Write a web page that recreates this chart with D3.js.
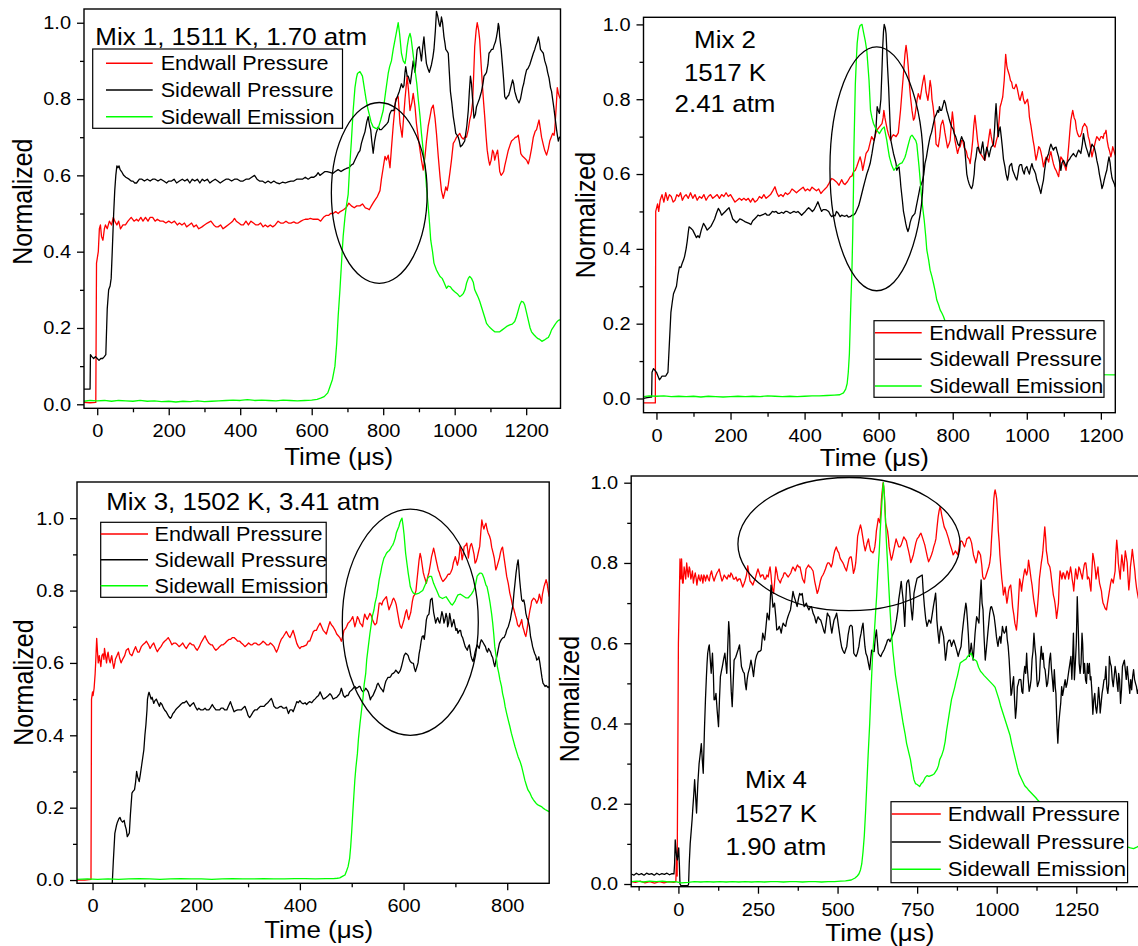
<!DOCTYPE html>
<html>
<head>
<meta charset="utf-8">
<script src="https://cdn.jsdelivr.net/npm/d3@7"></script>
<style>
  html, body { margin: 0; padding: 0; background: #fff; }
  svg { display: block; font-family: "Liberation Sans", Arial, Helvetica, sans-serif; }
</style>
</head>
<body>
<svg id="chart" width="1138" height="946"></svg>
<script>
// ---------------------------------------------------------------
// Shock-tube traces, normalized: [time in microseconds, value]
// ---------------------------------------------------------------
const seriesNames  = ["Endwall Pressure", "Sidewall Pressure", "Sidewall Emission"];
const seriesColors = ["#ff0000", "#000000", "#00ff00"];

const mixLabels = [
  ["Mix 1, 1511 K, 1.70 atm"],
  ["Mix 2", "1517 K", "2.41 atm"],
  ["Mix 3, 1502 K, 3.41 atm"],
  ["Mix 4", "1527 K", "1.90 atm"]
];

const yTicks      = [0, 0.2, 0.4, 0.6, 0.8, 1.0];
const yMinorTicks = [0.1, 0.3, 0.5, 0.7, 0.9];
const xTicks1 = [0, 200, 400, 600, 800, 1000, 1200];
const xMinor1 = [100, 300, 500, 700, 900, 1100];
const xTicks3 = [0, 200, 400, 600, 800];
const xMinor3 = [100, 300, 500, 700];
const xTicks4 = [0, 250, 500, 750, 1000, 1250];
const xMinor4 = [-125, 125, 375, 625, 875, 1125, 1375];

// Highlight ellipses: [centre time, centre value, half-width (us), half-height]
const mix1Ring = [789, 0.554, 134, 0.237];
const mix2Ring = [594.6, 0.614, 126.2, 0.326];
const mix3Ring = [613, 0.7125, 131.2, 0.3125];
const mix4Ring = [536, 0.847, 349, 0.166];

// ---------------- Mix 1 ----------------
const mix1Endwall = [[-37,0.005],[-20,0.004],[-4,0.005],[-2,0.37],[3,0.40],[6,0.46],[9,0.47],[12,0.44],[16,0.43],[20,0.46],[23,0.47],[28,0.46],[34,0.48],[40,0.47],[45,0.49],[49,0.48],[55,0.47],[60,0.48],[65,0.46],[72,0.47],[79,0.47],[86,0.48],[95,0.49],[103,0.48],[110,0.485],[115,0.48],[122,0.49],[128,0.48],[135,0.49],[142,0.48],[148,0.49],[155,0.49],[162,0.48],[168,0.485],[176,0.48],[184,0.48],[192,0.475],[200,0.48],[208,0.475],[216,0.48],[224,0.47],[230,0.475],[237,0.47],[244,0.475],[250,0.465],[257,0.47],[264,0.475],[270,0.465],[277,0.47],[284,0.46],[293,0.465],[300,0.47],[308,0.475],[318,0.48],[326,0.47],[332,0.465],[338,0.465],[345,0.47],[352,0.46],[359,0.465],[366,0.47],[373,0.475],[379,0.48],[384,0.487],[389,0.48],[396,0.475],[403,0.47],[409,0.47],[416,0.48],[423,0.47],[430,0.48],[437,0.475],[444,0.47],[450,0.47],[457,0.475],[464,0.465],[470,0.47],[477,0.465],[484,0.47],[491,0.465],[498,0.47],[506,0.48],[513,0.475],[521,0.475],[528,0.48],[535,0.475],[542,0.475],[550,0.478],[556,0.475],[562,0.475],[570,0.48],[576,0.483],[582,0.485],[590,0.485],[596,0.487],[603,0.485],[610,0.485],[618,0.485],[625,0.48],[633,0.49],[640,0.495],[647,0.495],[653,0.50],[660,0.50],[667,0.505],[674,0.50],[680,0.505],[689,0.51],[696,0.515],[704,0.527],[711,0.52],[719,0.515],[726,0.52],[735,0.52],[742,0.525],[750,0.515],[756,0.513],[761,0.51],[767,0.52],[772,0.528],[777,0.535],[784,0.545],[791,0.56],[795,0.59],[800,0.62],[805,0.65],[809,0.64],[814,0.653],[819,0.62],[823,0.67],[828,0.73],[832,0.77],[835,0.80],[842,0.806],[847,0.736],[853,0.70],[857,0.75],[861,0.80],[867,0.86],[871,0.82],[875,0.77],[880,0.79],[884,0.815],[889,0.78],[893,0.736],[898,0.70],[903,0.666],[907,0.64],[912,0.614],[917,0.65],[921,0.69],[926,0.73],[931,0.754],[935,0.775],[940,0.784],[945,0.75],[949,0.71],[954,0.65],[959,0.596],[963,0.56],[968,0.54],[972,0.555],[975,0.57],[979,0.56],[982,0.575],[987,0.61],[991,0.64],[996,0.684],[1000,0.69],[1005,0.70],[1010,0.705],[1014,0.71],[1019,0.70],[1024,0.695],[1028,0.70],[1033,0.70],[1038,0.72],[1042,0.745],[1046,0.76],[1050,0.79],[1053,0.86],[1056,0.937],[1060,0.98],[1063,1.0],[1067,0.98],[1070,0.955],[1074,0.89],[1078,0.83],[1081,0.79],[1084,0.754],[1088,0.70],[1091,0.666],[1095,0.64],[1098,0.627],[1102,0.64],[1106,0.666],[1109,0.66],[1112,0.64],[1116,0.655],[1120,0.666],[1123,0.64],[1126,0.61],[1130,0.60],[1134,0.605],[1137,0.61],[1140,0.625],[1145,0.645],[1150,0.666],[1155,0.68],[1159,0.69],[1165,0.695],[1170,0.70],[1173,0.70],[1178,0.705],[1182,0.68],[1185,0.657],[1190,0.65],[1196,0.645],[1201,0.64],[1206,0.63],[1210,0.645],[1215,0.67],[1220,0.70],[1225,0.715],[1229,0.72],[1233,0.735],[1236,0.745],[1240,0.72],[1243,0.70],[1248,0.68],[1252,0.665],[1257,0.653],[1262,0.67],[1266,0.69],[1270,0.70],[1274,0.71],[1278,0.705],[1280,0.72],[1284,0.78],[1287,0.83],[1290,0.815],[1293,0.806],[1296,0.80]];
const mix1Sidewall = [[-37,0.04],[-25,0.04],[-20,0.04],[-19,0.13],[-15,0.125],[-10,0.12],[-5,0.125],[0,0.12],[5,0.115],[10,0.12],[15,0.12],[20,0.125],[24,0.13],[28,0.25],[32,0.30],[36,0.31],[39,0.33],[42,0.40],[46,0.50],[49,0.56],[52,0.60],[55,0.625],[58,0.62],[61,0.625],[64,0.615],[68,0.61],[74,0.60],[80,0.595],[89,0.59],[95,0.585],[100,0.585],[105,0.58],[110,0.58],[118,0.59],[125,0.59],[132,0.585],[140,0.59],[148,0.585],[155,0.59],[162,0.59],[170,0.585],[178,0.59],[186,0.585],[194,0.58],[200,0.585],[208,0.585],[215,0.59],[222,0.58],[230,0.585],[238,0.59],[245,0.585],[252,0.59],[259,0.58],[266,0.59],[273,0.585],[280,0.59],[287,0.58],[294,0.59],[300,0.585],[308,0.59],[315,0.58],[322,0.585],[330,0.59],[337,0.585],[344,0.58],[352,0.585],[360,0.59],[368,0.59],[376,0.585],[384,0.59],[392,0.59],[400,0.585],[408,0.585],[416,0.59],[424,0.59],[432,0.595],[440,0.60],[447,0.59],[454,0.585],[462,0.585],[470,0.58],[478,0.585],[486,0.58],[494,0.585],[502,0.58],[510,0.578],[518,0.582],[526,0.58],[534,0.583],[542,0.585],[550,0.585],[558,0.59],[566,0.59],[574,0.59],[582,0.595],[590,0.59],[598,0.595],[606,0.595],[613,0.60],[618,0.607],[623,0.60],[630,0.605],[637,0.61],[643,0.61],[651,0.608],[659,0.605],[666,0.61],[674,0.615],[682,0.61],[690,0.615],[697,0.618],[704,0.62],[711,0.627],[716,0.63],[721,0.64],[726,0.65],[730,0.658],[735,0.665],[739,0.684],[744,0.70],[749,0.714],[754,0.74],[758,0.754],[762,0.73],[765,0.72],[768,0.69],[772,0.658],[776,0.69],[780,0.71],[786,0.727],[790,0.72],[795,0.72],[800,0.725],[805,0.73],[810,0.735],[814,0.74],[818,0.76],[823,0.77],[827,0.77],[830,0.77],[834,0.79],[837,0.80],[841,0.81],[845,0.82],[848,0.83],[851,0.84],[855,0.83],[858,0.835],[861,0.87],[863,0.885],[867,0.86],[870,0.86],[873,0.85],[876,0.84],[880,0.87],[884,0.90],[887,0.88],[889,0.87],[892,0.90],[895,0.93],[898,0.935],[901,0.937],[904,0.92],[907,0.90],[911,0.94],[914,0.963],[917,0.93],[921,0.893],[925,0.88],[929,0.87],[932,0.88],[935,0.89],[939,0.91],[942,0.93],[946,0.98],[949,1.03],[952,1.02],[954,1.01],[957,0.995],[959,0.99],[961,1.0],[963,1.015],[966,1.0],[970,0.963],[973,0.945],[975,0.93],[979,0.925],[982,0.92],[985,0.87],[988,0.82],[992,0.79],[996,0.754],[1000,0.73],[1003,0.71],[1007,0.705],[1010,0.70],[1013,0.69],[1016,0.675],[1020,0.678],[1024,0.684],[1028,0.69],[1031,0.71],[1034,0.73],[1038,0.77],[1041,0.82],[1044,0.86],[1047,0.84],[1050,0.80],[1054,0.75],[1058,0.76],[1061,0.78],[1065,0.79],[1069,0.80],[1072,0.81],[1075,0.82],[1079,0.84],[1082,0.86],[1086,0.865],[1089,0.87],[1093,0.89],[1096,0.92],[1100,0.925],[1103,0.93],[1107,0.93],[1110,0.94],[1114,0.95],[1117,0.963],[1120,0.98],[1122,0.998],[1124,0.99],[1126,0.963],[1130,0.93],[1134,0.885],[1137,0.85],[1140,0.806],[1144,0.80],[1147,0.806],[1151,0.81],[1154,0.82],[1158,0.835],[1162,0.85],[1165,0.84],[1168,0.82],[1171,0.81],[1174,0.80],[1177,0.795],[1180,0.79],[1184,0.80],[1187,0.815],[1190,0.83],[1193,0.84],[1197,0.86],[1201,0.876],[1205,0.88],[1210,0.89],[1215,0.905],[1220,0.92],[1224,0.93],[1227,0.94],[1231,0.95],[1234,0.963],[1237,0.95],[1240,0.93],[1244,0.925],[1248,0.92],[1252,0.90],[1257,0.885],[1260,0.87],[1264,0.855],[1268,0.83],[1271,0.82],[1274,0.80],[1277,0.78],[1281,0.75],[1285,0.72],[1288,0.70],[1290,0.69],[1293,0.70],[1296,0.70]];
const mix1Emission = [[-37,0.008],[-20,0.01],[0,0.009],[20,0.01],[40,0.008],[60,0.01],[80,0.009],[100,0.008],[120,0.01],[140,0.008],[160,0.009],[180,0.007],[200,0.008],[220,0.006],[240,0.008],[260,0.007],[280,0.009],[300,0.007],[320,0.008],[340,0.009],[360,0.01],[380,0.011],[400,0.01],[420,0.012],[440,0.01],[460,0.011],[480,0.01],[500,0.009],[520,0.011],[540,0.01],[560,0.009],[580,0.01],[600,0.011],[615,0.013],[625,0.016],[635,0.02],[645,0.03],[651,0.046],[658,0.065],[665,0.10],[670,0.16],[674,0.23],[679,0.30],[684,0.38],[688,0.44],[693,0.49],[697,0.52],[702,0.55],[706,0.62],[711,0.69],[716,0.77],[721,0.83],[725,0.855],[728,0.867],[735,0.872],[742,0.86],[747,0.83],[752,0.80],[757,0.775],[761,0.76],[766,0.74],[772,0.727],[779,0.723],[786,0.723],[793,0.745],[800,0.77],[807,0.82],[814,0.867],[818,0.885],[823,0.90],[828,0.93],[833,0.955],[838,0.98],[842,1.0],[846,0.97],[851,0.92],[856,0.90],[861,0.893],[864,0.91],[867,0.937],[871,0.96],[875,0.972],[878,0.96],[882,0.93],[886,0.90],[889,0.876],[894,0.84],[898,0.80],[903,0.755],[907,0.71],[912,0.665],[917,0.623],[921,0.57],[926,0.518],[930,0.47],[933,0.43],[938,0.40],[942,0.37],[949,0.352],[954,0.343],[959,0.335],[965,0.33],[970,0.32],[977,0.304],[982,0.31],[988,0.308],[994,0.30],[1000,0.295],[1007,0.29],[1014,0.282],[1019,0.285],[1024,0.29],[1029,0.30],[1033,0.317],[1038,0.33],[1042,0.335],[1047,0.33],[1052,0.32],[1056,0.30],[1061,0.29],[1066,0.28],[1070,0.27],[1075,0.255],[1080,0.24],[1085,0.225],[1089,0.212],[1095,0.205],[1100,0.20],[1106,0.195],[1112,0.19],[1119,0.19],[1126,0.19],[1133,0.195],[1140,0.20],[1147,0.205],[1154,0.208],[1161,0.21],[1168,0.217],[1173,0.23],[1178,0.247],[1182,0.26],[1187,0.27],[1192,0.268],[1196,0.26],[1201,0.24],[1206,0.22],[1211,0.20],[1215,0.19],[1221,0.183],[1227,0.177],[1233,0.172],[1238,0.17],[1244,0.165],[1250,0.168],[1256,0.172],[1262,0.175],[1267,0.185],[1271,0.195],[1276,0.202],[1280,0.208],[1285,0.215],[1290,0.22],[1296,0.222]];

// ---------------- Mix 2 ----------------
const mix2Endwall = [[-35,-0.012],[-20,-0.012],[-3,-0.012],[-2,0.50],[3,0.52],[6,0.50],[10,0.53],[15,0.545],[20,0.525],[25,0.55],[30,0.53],[35,0.545],[40,0.54],[45,0.525],[50,0.53],[55,0.545],[60,0.54],[65,0.55],[70,0.53],[75,0.54],[80,0.545],[86,0.535],[92,0.55],[98,0.535],[104,0.545],[110,0.53],[116,0.54],[122,0.535],[128,0.545],[134,0.53],[140,0.54],[146,0.545],[152,0.535],[158,0.54],[164,0.545],[170,0.535],[176,0.545],[182,0.54],[188,0.55],[194,0.54],[200,0.545],[206,0.535],[212,0.525],[218,0.53],[224,0.535],[230,0.53],[236,0.535],[242,0.53],[248,0.535],[254,0.525],[260,0.535],[266,0.525],[272,0.53],[278,0.54],[284,0.535],[290,0.545],[296,0.535],[302,0.54],[308,0.545],[314,0.555],[320,0.566],[325,0.55],[330,0.54],[336,0.545],[342,0.54],[348,0.55],[354,0.545],[360,0.55],[366,0.56],[372,0.555],[378,0.55],[384,0.555],[390,0.56],[396,0.565],[402,0.555],[408,0.56],[414,0.555],[420,0.565],[426,0.56],[432,0.555],[438,0.56],[444,0.548],[450,0.555],[455,0.56],[460,0.565],[466,0.575],[473,0.588],[479,0.585],[486,0.579],[493,0.57],[500,0.585],[505,0.575],[509,0.572],[516,0.58],[523,0.592],[528,0.595],[532,0.606],[537,0.61],[541,0.62],[546,0.635],[550,0.646],[554,0.63],[557,0.61],[561,0.63],[566,0.655],[572,0.664],[576,0.68],[581,0.70],[587,0.69],[591,0.705],[595,0.717],[602,0.726],[609,0.735],[612,0.75],[614,0.77],[617,0.75],[620,0.735],[623,0.72],[626,0.708],[632,0.69],[636,0.70],[640,0.705],[647,0.70],[653,0.71],[656,0.74],[659,0.77],[663,0.82],[667,0.868],[671,0.92],[674,0.944],[677,0.92],[680,0.886],[683,0.84],[686,0.806],[690,0.77],[694,0.744],[697,0.75],[700,0.77],[704,0.80],[707,0.815],[712,0.80],[717,0.833],[720,0.85],[723,0.864],[726,0.84],[728,0.82],[733,0.797],[736,0.82],[739,0.85],[742,0.83],[744,0.80],[747,0.78],[750,0.753],[753,0.72],[755,0.68],[761,0.673],[765,0.70],[768,0.73],[773,0.744],[776,0.73],[779,0.71],[786,0.67],[790,0.68],[793,0.69],[796,0.73],[799,0.766],[802,0.74],[806,0.69],[810,0.67],[813,0.655],[817,0.67],[820,0.673],[824,0.69],[827,0.69],[831,0.67],[833,0.668],[837,0.66],[840,0.645],[844,0.64],[847,0.628],[851,0.66],[854,0.69],[857,0.73],[860,0.757],[864,0.72],[867,0.69],[870,0.67],[874,0.655],[878,0.65],[881,0.645],[884,0.64],[887,0.637],[891,0.66],[894,0.672],[898,0.70],[901,0.72],[904,0.70],[908,0.68],[911,0.675],[914,0.672],[918,0.69],[921,0.70],[925,0.74],[928,0.78],[931,0.79],[935,0.806],[939,0.85],[943,0.92],[946,0.89],[948,0.88],[953,0.864],[956,0.85],[959,0.846],[962,0.83],[966,0.828],[969,0.835],[971,0.84],[974,0.83],[977,0.815],[980,0.80],[982,0.797],[985,0.81],[988,0.82],[991,0.80],[995,0.788],[999,0.795],[1002,0.80],[1005,0.78],[1007,0.753],[1011,0.73],[1014,0.71],[1017,0.69],[1020,0.673],[1023,0.65],[1025,0.637],[1029,0.655],[1032,0.673],[1035,0.67],[1038,0.66],[1042,0.64],[1045,0.619],[1049,0.635],[1052,0.645],[1056,0.64],[1059,0.632],[1062,0.65],[1065,0.66],[1069,0.64],[1072,0.627],[1076,0.615],[1079,0.61],[1083,0.60],[1086,0.593],[1089,0.62],[1092,0.646],[1096,0.64],[1099,0.628],[1103,0.62],[1106,0.61],[1110,0.64],[1113,0.673],[1116,0.71],[1119,0.744],[1122,0.76],[1124,0.77],[1128,0.75],[1131,0.744],[1134,0.72],[1137,0.708],[1141,0.70],[1144,0.70],[1148,0.71],[1151,0.726],[1154,0.73],[1156,0.735],[1159,0.73],[1162,0.726],[1166,0.70],[1169,0.69],[1173,0.665],[1176,0.646],[1179,0.66],[1182,0.673],[1186,0.69],[1189,0.70],[1193,0.695],[1196,0.69],[1200,0.70],[1203,0.70],[1206,0.695],[1209,0.708],[1212,0.71],[1214,0.717],[1217,0.69],[1220,0.673],[1224,0.66],[1227,0.646],[1230,0.66],[1232,0.673],[1236,0.66],[1239,0.65]];
const mix2Sidewall = [[-35,0.0],[-25,0.002],[-15,0.004],[-13,0.004],[-12,0.07],[-8,0.08],[-4,0.075],[0,0.07],[4,0.06],[8,0.05],[12,0.055],[15,0.06],[20,0.06],[25,0.06],[28,0.065],[31,0.07],[35,0.15],[39,0.23],[43,0.26],[46,0.28],[50,0.29],[54,0.30],[58,0.33],[62,0.352],[66,0.35],[69,0.36],[73,0.37],[76,0.38],[80,0.40],[83,0.42],[86,0.445],[88,0.459],[93,0.455],[98,0.45],[103,0.44],[108,0.43],[112,0.435],[116,0.43],[121,0.45],[127,0.468],[132,0.46],[137,0.45],[142,0.455],[147,0.46],[152,0.47],[157,0.48],[162,0.495],[167,0.508],[172,0.50],[176,0.49],[181,0.495],[186,0.50],[191,0.505],[196,0.51],[201,0.495],[206,0.48],[211,0.475],[216,0.47],[221,0.475],[225,0.48],[230,0.478],[235,0.475],[240,0.472],[245,0.47],[250,0.468],[255,0.465],[260,0.475],[265,0.48],[270,0.485],[274,0.49],[279,0.488],[284,0.49],[289,0.492],[294,0.495],[299,0.49],[304,0.49],[309,0.495],[313,0.50],[318,0.498],[323,0.50],[328,0.495],[333,0.495],[338,0.498],[343,0.495],[348,0.50],[353,0.50],[358,0.497],[362,0.495],[367,0.498],[372,0.50],[377,0.497],[382,0.50],[387,0.495],[392,0.49],[397,0.495],[402,0.50],[406,0.505],[411,0.51],[416,0.505],[421,0.50],[426,0.505],[431,0.515],[436,0.526],[441,0.512],[446,0.50],[450,0.505],[455,0.505],[459,0.504],[465,0.50],[470,0.49],[473,0.486],[478,0.49],[482,0.488],[486,0.50],[491,0.495],[496,0.486],[500,0.49],[505,0.488],[509,0.487],[514,0.49],[518,0.485],[523,0.486],[528,0.49],[532,0.49],[537,0.495],[541,0.504],[546,0.515],[550,0.53],[555,0.55],[559,0.566],[564,0.585],[568,0.60],[573,0.615],[577,0.628],[582,0.655],[586,0.68],[590,0.70],[593,0.726],[596,0.78],[599,0.77],[602,0.762],[604,0.78],[606,0.80],[609,0.88],[611,0.94],[613,0.98],[615,1.0],[618,0.99],[620,0.975],[622,0.93],[624,0.886],[627,0.83],[629,0.78],[631,0.73],[633,0.69],[637,0.67],[640,0.655],[644,0.64],[647,0.628],[649,0.61],[651,0.615],[655,0.619],[658,0.59],[660,0.566],[664,0.53],[667,0.50],[670,0.485],[673,0.468],[676,0.455],[679,0.446],[682,0.455],[685,0.47],[688,0.48],[691,0.487],[694,0.49],[698,0.495],[701,0.51],[705,0.53],[709,0.55],[712,0.566],[716,0.575],[719,0.584],[722,0.60],[725,0.628],[729,0.645],[732,0.664],[736,0.685],[739,0.70],[743,0.712],[746,0.726],[749,0.74],[752,0.753],[756,0.76],[759,0.77],[762,0.765],[764,0.78],[767,0.77],[770,0.77],[774,0.785],[777,0.797],[780,0.79],[784,0.77],[787,0.76],[791,0.745],[794,0.735],[797,0.726],[801,0.72],[804,0.708],[808,0.70],[811,0.69],[814,0.68],[818,0.675],[821,0.69],[824,0.70],[828,0.69],[831,0.685],[834,0.65],[838,0.60],[841,0.585],[844,0.575],[848,0.565],[851,0.561],[854,0.57],[858,0.60],[860,0.63],[863,0.646],[866,0.67],[869,0.672],[872,0.66],[876,0.655],[878,0.67],[881,0.686],[884,0.66],[886,0.637],[889,0.655],[892,0.672],[895,0.66],[898,0.646],[901,0.66],[904,0.672],[907,0.675],[910,0.68],[913,0.72],[915,0.76],[917,0.788],[920,0.74],[923,0.70],[925,0.715],[928,0.726],[931,0.70],[934,0.672],[937,0.64],[941,0.62],[944,0.60],[948,0.584],[951,0.60],[953,0.62],[956,0.625],[959,0.628],[962,0.61],[966,0.60],[969,0.592],[973,0.584],[976,0.60],[979,0.62],[982,0.625],[986,0.625],[989,0.61],[993,0.60],[996,0.615],[1000,0.62],[1003,0.61],[1007,0.60],[1010,0.615],[1014,0.628],[1017,0.615],[1020,0.61],[1024,0.60],[1027,0.584],[1030,0.575],[1033,0.566],[1036,0.555],[1038,0.548],[1041,0.565],[1045,0.584],[1048,0.61],[1052,0.637],[1055,0.645],[1059,0.655],[1062,0.67],[1065,0.68],[1069,0.67],[1072,0.664],[1075,0.67],[1079,0.672],[1082,0.66],[1086,0.646],[1089,0.63],[1092,0.61],[1095,0.63],[1099,0.637],[1102,0.63],[1106,0.62],[1109,0.63],[1113,0.637],[1116,0.64],[1119,0.646],[1122,0.65],[1126,0.655],[1129,0.65],[1133,0.646],[1136,0.655],[1140,0.664],[1143,0.66],[1146,0.655],[1150,0.68],[1153,0.708],[1156,0.69],[1160,0.672],[1164,0.66],[1168,0.646],[1171,0.66],[1176,0.68],[1179,0.675],[1182,0.672],[1186,0.655],[1189,0.637],[1193,0.62],[1196,0.60],[1200,0.58],[1203,0.561],[1206,0.57],[1209,0.584],[1213,0.60],[1216,0.61],[1219,0.63],[1222,0.646],[1225,0.63],[1227,0.61],[1230,0.59],[1232,0.584],[1236,0.575],[1239,0.565]];
const mix2Emission = [[-35,0.005],[-20,0.007],[0,0.006],[20,0.007],[40,0.005],[60,0.006],[80,0.005],[100,0.006],[120,0.004],[140,0.006],[160,0.005],[180,0.004],[200,0.005],[220,0.006],[240,0.005],[260,0.006],[280,0.005],[300,0.007],[320,0.006],[340,0.005],[360,0.006],[380,0.005],[400,0.006],[420,0.007],[440,0.007],[460,0.008],[480,0.009],[495,0.01],[505,0.015],[511,0.025],[515,0.04],[518,0.07],[521,0.12],[523,0.19],[525,0.26],[528,0.35],[530,0.44],[532,0.56],[533,0.66],[535,0.75],[537,0.84],[540,0.91],[542,0.95],[546,0.985],[550,0.997],[555,1.0],[560,0.975],[564,0.955],[568,0.93],[571,0.89],[574,0.85],[578,0.77],[582,0.75],[586,0.735],[593,0.72],[602,0.708],[609,0.72],[615,0.726],[618,0.71],[622,0.69],[625,0.67],[629,0.646],[632,0.635],[635,0.624],[641,0.61],[645,0.615],[649,0.62],[654,0.625],[658,0.628],[663,0.63],[667,0.637],[671,0.645],[674,0.655],[679,0.675],[683,0.69],[686,0.70],[690,0.704],[693,0.70],[696,0.695],[700,0.69],[703,0.68],[706,0.65],[709,0.62],[712,0.585],[715,0.548],[719,0.51],[723,0.477],[727,0.435],[730,0.397],[735,0.37],[739,0.343],[744,0.325],[748,0.308],[753,0.285],[757,0.263],[762,0.25],[766,0.237],[771,0.228],[775,0.219],[780,0.205],[800,0.17],[850,0.125],[900,0.10],[1000,0.08],[1100,0.07],[1200,0.064],[1239,0.063]];

// ---------------- Mix 3 ----------------
const mix3Endwall = [[-30,0.0],[-15,0.0],[-3,0.002],[-2,0.50],[0,0.52],[1,0.51],[3,0.53],[5,0.57],[6,0.60],[8,0.668],[10,0.62],[11,0.60],[13,0.62],[15,0.60],[16,0.59],[18,0.62],[20,0.625],[22,0.61],[23,0.64],[25,0.62],[27,0.60],[29,0.625],[30,0.63],[32,0.61],[34,0.60],[36,0.615],[37,0.62],[39,0.60],[41,0.585],[43,0.60],[44,0.61],[47,0.62],[50,0.63],[52,0.615],[55,0.60],[58,0.61],[62,0.62],[65,0.635],[69,0.64],[72,0.625],[76,0.62],[80,0.635],[83,0.645],[87,0.63],[90,0.63],[94,0.645],[97,0.65],[101,0.655],[104,0.66],[108,0.65],[111,0.64],[115,0.65],[118,0.655],[122,0.64],[125,0.631],[129,0.64],[132,0.645],[136,0.655],[139,0.66],[143,0.665],[146,0.67],[150,0.66],[153,0.65],[157,0.655],[160,0.655],[164,0.65],[167,0.645],[171,0.65],[174,0.655],[178,0.645],[181,0.64],[185,0.65],[188,0.655],[192,0.65],[195,0.65],[199,0.64],[202,0.635],[206,0.645],[209,0.655],[213,0.665],[217,0.675],[220,0.665],[224,0.655],[228,0.65],[231,0.65],[235,0.64],[238,0.635],[242,0.64],[245,0.645],[249,0.65],[252,0.65],[256,0.655],[259,0.66],[263,0.665],[266,0.665],[270,0.67],[273,0.67],[277,0.665],[280,0.66],[284,0.66],[287,0.655],[291,0.65],[294,0.645],[298,0.65],[301,0.655],[305,0.65],[308,0.65],[312,0.655],[315,0.655],[319,0.65],[322,0.65],[326,0.655],[329,0.66],[333,0.655],[336,0.65],[340,0.65],[343,0.655],[347,0.65],[350,0.645],[353,0.635],[355,0.63],[358,0.64],[361,0.654],[364,0.665],[368,0.673],[371,0.68],[374,0.687],[378,0.675],[381,0.67],[384,0.68],[387,0.69],[390,0.675],[394,0.654],[397,0.645],[400,0.64],[403,0.645],[406,0.645],[410,0.648],[413,0.65],[416,0.66],[419,0.66],[423,0.675],[426,0.687],[429,0.69],[432,0.69],[435,0.70],[439,0.71],[442,0.70],[445,0.69],[448,0.685],[451,0.68],[455,0.70],[458,0.714],[461,0.705],[464,0.70],[468,0.69],[471,0.68],[474,0.675],[477,0.67],[480,0.66],[483,0.675],[485,0.69],[488,0.695],[490,0.70],[493,0.71],[496,0.714],[499,0.72],[502,0.728],[504,0.715],[506,0.70],[509,0.715],[511,0.728],[514,0.72],[516,0.71],[519,0.705],[521,0.70],[523,0.72],[525,0.735],[528,0.725],[530,0.72],[533,0.73],[535,0.737],[538,0.73],[540,0.72],[543,0.71],[545,0.705],[548,0.71],[551,0.74],[553,0.765],[556,0.765],[558,0.76],[560,0.77],[562,0.774],[565,0.78],[567,0.783],[570,0.76],[572,0.747],[574,0.755],[577,0.765],[579,0.775],[581,0.779],[584,0.77],[586,0.76],[589,0.735],[592,0.71],[594,0.70],[596,0.696],[599,0.71],[601,0.72],[604,0.74],[606,0.747],[608,0.73],[610,0.72],[612,0.73],[614,0.74],[617,0.77],[619,0.783],[622,0.79],[624,0.80],[626,0.83],[628,0.857],[630,0.885],[632,0.903],[634,0.89],[636,0.87],[638,0.85],[640,0.839],[642,0.83],[644,0.82],[647,0.84],[649,0.85],[652,0.875],[654,0.894],[656,0.905],[658,0.917],[660,0.905],[662,0.89],[665,0.87],[667,0.857],[669,0.85],[671,0.84],[674,0.83],[676,0.825],[679,0.83],[682,0.835],[684,0.84],[686,0.845],[689,0.845],[691,0.85],[694,0.86],[696,0.876],[698,0.885],[700,0.894],[702,0.88],[704,0.87],[707,0.89],[709,0.922],[711,0.91],[713,0.885],[715,0.90],[717,0.922],[720,0.925],[722,0.931],[724,0.91],[725,0.89],[727,0.91],[729,0.925],[731,0.93],[733,0.92],[736,0.90],[738,0.876],[740,0.88],[742,0.89],[745,0.91],[747,0.922],[749,0.96],[751,0.995],[753,0.98],[755,0.97],[757,0.98],[759,0.986],[761,0.97],[763,0.96],[766,0.95],[768,0.94],[770,0.92],[773,0.903],[775,0.89],[778,0.857],[780,0.865],[783,0.88],[785,0.89],[787,0.905],[789,0.915],[791,0.92],[793,0.90],[795,0.88],[797,0.86],[799,0.839],[802,0.82],[805,0.793],[808,0.775],[810,0.76],[813,0.747],[816,0.73],[818,0.72],[820,0.705],[823,0.70],[826,0.71],[828,0.72],[830,0.70],[832,0.691],[834,0.68],[836,0.673],[838,0.69],[840,0.71],[842,0.73],[844,0.747],[846,0.76],[847,0.77],[849,0.775],[851,0.779],[854,0.775],[857,0.765],[860,0.775],[862,0.79],[864,0.78],[866,0.765],[868,0.79],[871,0.811],[873,0.82],[875,0.83],[877,0.82],[879,0.80],[881,0.783]];
const mix3Sidewall = [[-30,-0.05],[36,-0.05],[38,-0.01],[40,0.05],[43,0.129],[46,0.15],[48,0.16],[51,0.17],[53,0.173],[55,0.165],[58,0.16],[61,0.165],[63,0.15],[65,0.14],[67,0.12],[69,0.125],[71,0.13],[73,0.18],[76,0.24],[78,0.245],[81,0.25],[83,0.27],[85,0.30],[87,0.285],[90,0.272],[92,0.29],[95,0.32],[97,0.34],[99,0.36],[101,0.40],[103,0.43],[105,0.47],[106,0.50],[108,0.515],[109,0.519],[111,0.51],[113,0.50],[115,0.505],[118,0.488],[120,0.495],[123,0.50],[126,0.49],[129,0.48],[131,0.49],[134,0.485],[137,0.475],[139,0.47],[142,0.465],[144,0.46],[147,0.452],[150,0.447],[152,0.45],[155,0.46],[158,0.465],[160,0.47],[163,0.475],[167,0.48],[170,0.485],[174,0.49],[177,0.49],[181,0.495],[184,0.488],[188,0.48],[191,0.485],[195,0.49],[198,0.48],[202,0.47],[205,0.475],[209,0.47],[213,0.47],[217,0.475],[220,0.47],[224,0.47],[227,0.475],[231,0.485],[234,0.478],[238,0.47],[241,0.47],[245,0.47],[248,0.475],[252,0.475],[255,0.47],[259,0.47],[262,0.48],[266,0.493],[269,0.48],[273,0.465],[276,0.468],[280,0.47],[283,0.47],[287,0.47],[290,0.475],[294,0.48],[298,0.465],[300,0.455],[303,0.449],[306,0.455],[310,0.465],[313,0.47],[317,0.47],[320,0.475],[324,0.48],[327,0.48],[331,0.48],[334,0.485],[338,0.49],[341,0.495],[345,0.502],[348,0.49],[350,0.48],[354,0.475],[357,0.475],[361,0.479],[364,0.48],[368,0.475],[371,0.475],[374,0.478],[378,0.46],[381,0.47],[385,0.47],[387,0.465],[391,0.48],[394,0.493],[397,0.49],[400,0.496],[403,0.49],[406,0.487],[410,0.49],[413,0.485],[416,0.49],[419,0.493],[423,0.49],[426,0.496],[429,0.50],[432,0.505],[436,0.51],[439,0.52],[442,0.51],[445,0.50],[448,0.502],[451,0.505],[455,0.51],[458,0.515],[461,0.51],[464,0.50],[468,0.503],[471,0.505],[474,0.51],[477,0.515],[480,0.53],[484,0.51],[487,0.505],[490,0.51],[493,0.51],[496,0.52],[500,0.525],[503,0.53],[506,0.535],[509,0.53],[511,0.531],[514,0.535],[516,0.535],[519,0.525],[522,0.52],[525,0.525],[527,0.53],[530,0.525],[532,0.52],[534,0.51],[536,0.498],[538,0.505],[541,0.51],[544,0.52],[547,0.53],[549,0.54],[551,0.544],[554,0.535],[556,0.53],[559,0.525],[561,0.52],[564,0.54],[566,0.55],[568,0.555],[570,0.56],[573,0.56],[575,0.562],[578,0.57],[580,0.571],[583,0.575],[585,0.58],[588,0.575],[590,0.571],[592,0.575],[594,0.58],[596,0.59],[599,0.608],[601,0.62],[604,0.627],[606,0.625],[609,0.62],[611,0.61],[613,0.604],[616,0.60],[619,0.599],[621,0.585],[623,0.576],[626,0.59],[628,0.60],[630,0.625],[632,0.64],[634,0.66],[636,0.673],[638,0.675],[640,0.665],[642,0.69],[644,0.719],[646,0.73],[649,0.735],[651,0.76],[652,0.774],[655,0.779],[658,0.74],[660,0.725],[662,0.71],[664,0.72],[666,0.725],[668,0.715],[670,0.71],[672,0.725],[674,0.742],[676,0.73],[678,0.71],[680,0.72],[682,0.737],[684,0.725],[685,0.70],[687,0.71],[689,0.737],[691,0.72],[693,0.70],[695,0.71],[697,0.72],[699,0.705],[701,0.69],[703,0.695],[705,0.682],[708,0.69],[710,0.69],[712,0.675],[714,0.67],[716,0.66],[719,0.645],[721,0.64],[723,0.635],[725,0.645],[727,0.65],[729,0.63],[730,0.62],[732,0.61],[734,0.604],[736,0.615],[738,0.63],[740,0.64],[742,0.65],[744,0.645],[746,0.64],[748,0.655],[750,0.664],[752,0.66],[754,0.655],[756,0.65],[758,0.645],[760,0.635],[762,0.63],[764,0.64],[766,0.635],[768,0.63],[770,0.62],[772,0.615],[774,0.60],[776,0.59],[778,0.605],[781,0.625],[783,0.64],[785,0.654],[787,0.66],[789,0.665],[792,0.67],[794,0.67],[797,0.68],[799,0.691],[802,0.70],[804,0.71],[806,0.72],[808,0.737],[811,0.76],[813,0.793],[815,0.82],[817,0.848],[819,0.87],[821,0.885],[822,0.87],[824,0.83],[826,0.80],[828,0.774],[830,0.77],[832,0.774],[834,0.76],[836,0.737],[838,0.725],[840,0.719],[843,0.70],[845,0.673],[847,0.66],[849,0.645],[851,0.635],[853,0.626],[855,0.62],[857,0.608],[859,0.61],[861,0.617],[863,0.60],[865,0.58],[867,0.56],[869,0.544],[871,0.54],[873,0.535],[875,0.538],[877,0.535],[879,0.532],[881,0.535]];
const mix3Emission = [[-30,0.002],[-10,0.003],[10,0.002],[30,0.003],[50,0.002],[70,0.003],[90,0.004],[110,0.003],[130,0.002],[150,0.003],[170,0.004],[190,0.003],[210,0.003],[230,0.002],[250,0.003],[270,0.004],[290,0.003],[310,0.003],[330,0.004],[350,0.003],[370,0.003],[390,0.004],[410,0.004],[430,0.003],[450,0.004],[465,0.004],[472,0.005],[477,0.006],[482,0.01],[487,0.014],[490,0.025],[493,0.037],[496,0.06],[498,0.092],[500,0.135],[502,0.184],[504,0.23],[506,0.276],[508,0.31],[511,0.35],[513,0.39],[516,0.433],[519,0.47],[522,0.507],[524,0.54],[527,0.571],[529,0.61],[532,0.645],[535,0.68],[538,0.71],[540,0.73],[543,0.747],[545,0.765],[548,0.783],[551,0.81],[553,0.83],[556,0.85],[558,0.866],[560,0.878],[562,0.889],[565,0.897],[567,0.903],[570,0.908],[572,0.91],[575,0.916],[577,0.922],[579,0.925],[581,0.932],[584,0.945],[586,0.959],[589,0.97],[591,0.977],[593,0.988],[595,0.995],[597,1.0],[599,0.98],[601,0.955],[603,0.92],[604,0.903],[607,0.87],[609,0.848],[611,0.83],[613,0.811],[616,0.80],[619,0.793],[624,0.79],[630,0.793],[637,0.80],[643,0.82],[647,0.835],[650,0.839],[654,0.839],[658,0.82],[661,0.81],[664,0.80],[669,0.783],[675,0.778],[682,0.783],[688,0.77],[692,0.762],[694,0.76],[697,0.766],[699,0.77],[702,0.78],[705,0.788],[710,0.79],[715,0.785],[720,0.78],[725,0.78],[731,0.79],[735,0.80],[738,0.811],[740,0.825],[742,0.84],[745,0.845],[747,0.848],[750,0.848],[752,0.846],[755,0.835],[757,0.825],[759,0.815],[761,0.811],[764,0.79],[767,0.765],[770,0.735],[772,0.71],[774,0.68],[776,0.645],[779,0.615],[781,0.59],[784,0.57],[786,0.553],[789,0.535],[791,0.516],[794,0.497],[796,0.479],[799,0.46],[802,0.442],[805,0.425],[808,0.406],[811,0.39],[815,0.369],[818,0.355],[821,0.341],[825,0.327],[828,0.313],[831,0.295],[834,0.276],[837,0.262],[840,0.249],[844,0.24],[847,0.23],[850,0.223],[853,0.217],[857,0.21],[860,0.207],[863,0.205],[866,0.203],[870,0.198],[873,0.195],[877,0.192],[881,0.189]];

// ---------------- Mix 4 ----------------
const mix4Endwall = [[-148,0.006],[-135,0.004],[-120,0.007],[-105,0.003],[-90,0.006],[-75,0.002],[-60,0.006],[-45,0.003],[-30,0.006],[-15,0.004],[-8,0.006],[-6,0.07],[-4,0.02],[-2,0.3],[0,0.60],[2,0.68],[5,0.81],[8,0.76],[10,0.81],[13,0.75],[15,0.75],[18,0.79],[20,0.78],[23,0.76],[26,0.80],[28,0.785],[31,0.765],[34,0.79],[36,0.785],[39,0.76],[42,0.77],[44,0.78],[47,0.75],[50,0.765],[53,0.775],[56,0.76],[58,0.745],[61,0.76],[64,0.77],[66,0.76],[69,0.755],[72,0.77],[74,0.765],[77,0.75],[80,0.77],[83,0.765],[85,0.755],[88,0.765],[90,0.77],[94,0.76],[97,0.755],[100,0.77],[104,0.78],[108,0.765],[112,0.755],[116,0.765],[121,0.775],[125,0.78],[128,0.785],[132,0.77],[137,0.755],[140,0.76],[144,0.77],[148,0.765],[153,0.76],[157,0.77],[162,0.765],[165,0.775],[169,0.77],[173,0.76],[177,0.76],[181,0.765],[185,0.755],[190,0.76],[194,0.76],[198,0.75],[202,0.74],[206,0.748],[209,0.755],[214,0.77],[218,0.793],[222,0.77],[225,0.755],[230,0.75],[234,0.745],[238,0.755],[241,0.76],[246,0.775],[250,0.785],[254,0.775],[258,0.765],[262,0.77],[266,0.77],[270,0.76],[274,0.76],[278,0.77],[282,0.765],[285,0.78],[288,0.79],[291,0.77],[293,0.75],[296,0.735],[299,0.724],[302,0.75],[306,0.79],[310,0.775],[313,0.76],[317,0.755],[320,0.75],[324,0.76],[328,0.765],[332,0.775],[336,0.775],[340,0.77],[345,0.765],[349,0.77],[353,0.775],[357,0.785],[360,0.79],[364,0.785],[367,0.78],[371,0.79],[374,0.795],[378,0.79],[382,0.79],[386,0.775],[390,0.76],[393,0.755],[396,0.75],[399,0.77],[401,0.785],[405,0.79],[409,0.795],[412,0.79],[415,0.79],[419,0.785],[423,0.78],[426,0.765],[428,0.755],[432,0.74],[436,0.724],[439,0.73],[442,0.74],[446,0.755],[450,0.765],[454,0.77],[457,0.775],[462,0.785],[466,0.795],[469,0.80],[473,0.80],[477,0.795],[480,0.79],[484,0.80],[487,0.815],[491,0.83],[496,0.84],[500,0.83],[504,0.825],[507,0.815],[509,0.81],[513,0.805],[517,0.80],[520,0.795],[522,0.79],[525,0.785],[528,0.78],[532,0.795],[536,0.81],[540,0.815],[543,0.815],[546,0.80],[550,0.774],[554,0.785],[557,0.80],[560,0.83],[563,0.866],[567,0.88],[572,0.895],[575,0.885],[579,0.865],[583,0.845],[587,0.83],[590,0.84],[593,0.85],[597,0.86],[600,0.845],[604,0.83],[608,0.828],[611,0.825],[614,0.83],[617,0.84],[620,0.86],[622,0.88],[625,0.895],[628,0.911],[631,0.905],[633,0.90],[636,0.93],[638,0.96],[641,0.985],[643,1.0],[645,0.99],[647,0.97],[649,0.935],[651,0.90],[654,0.89],[657,0.88],[660,0.86],[662,0.84],[666,0.82],[669,0.807],[672,0.815],[676,0.83],[680,0.845],[684,0.86],[688,0.85],[692,0.84],[696,0.84],[700,0.845],[704,0.855],[708,0.865],[712,0.86],[716,0.855],[720,0.84],[723,0.83],[727,0.815],[730,0.801],[734,0.81],[738,0.82],[742,0.835],[746,0.85],[750,0.86],[755,0.865],[758,0.87],[762,0.874],[766,0.865],[770,0.855],[774,0.845],[778,0.83],[782,0.815],[786,0.803],[790,0.81],[795,0.82],[799,0.83],[802,0.84],[806,0.85],[809,0.86],[812,0.885],[816,0.915],[819,0.93],[822,0.94],[825,0.93],[827,0.92],[831,0.905],[835,0.89],[838,0.885],[841,0.88],[845,0.87],[849,0.86],[852,0.85],[856,0.84],[860,0.83],[863,0.82],[867,0.825],[870,0.83],[874,0.825],[878,0.82],[881,0.835],[884,0.85],[888,0.855],[892,0.853],[896,0.845],[899,0.84],[903,0.85],[906,0.86],[910,0.862],[913,0.865],[917,0.86],[921,0.85],[924,0.835],[927,0.82],[931,0.81],[935,0.80],[939,0.815],[942,0.83],[946,0.825],[949,0.82],[953,0.795],[956,0.766],[959,0.76],[962,0.76],[965,0.765],[967,0.77],[971,0.78],[975,0.79],[978,0.80],[981,0.82],[983,0.85],[986,0.89],[989,0.93],[991,0.96],[993,0.975],[995,0.982],[998,0.97],[1000,0.96],[1003,0.92],[1005,0.88],[1008,0.85],[1010,0.82],[1013,0.79],[1016,0.76],[1019,0.74],[1021,0.72],[1024,0.73],[1026,0.74],[1029,0.72],[1032,0.70],[1035,0.715],[1037,0.73],[1040,0.74],[1044,0.745],[1047,0.72],[1050,0.69],[1054,0.67],[1057,0.65],[1060,0.64],[1062,0.633],[1065,0.66],[1068,0.70],[1070,0.73],[1072,0.76],[1075,0.75],[1078,0.73],[1081,0.75],[1084,0.765],[1087,0.78],[1089,0.785],[1092,0.775],[1094,0.77],[1097,0.78],[1100,0.807],[1104,0.785],[1108,0.76],[1111,0.745],[1113,0.73],[1116,0.71],[1118,0.70],[1121,0.685],[1124,0.666],[1127,0.68],[1129,0.70],[1132,0.73],[1134,0.76],[1137,0.78],[1140,0.80],[1143,0.815],[1145,0.83],[1148,0.86],[1151,0.89],[1154,0.86],[1156,0.83],[1159,0.815],[1161,0.80],[1164,0.795],[1167,0.79],[1170,0.775],[1172,0.76],[1175,0.74],[1178,0.72],[1181,0.71],[1183,0.70],[1186,0.68],[1188,0.662],[1191,0.68],[1194,0.70],[1196,0.74],[1199,0.78],[1202,0.77],[1205,0.76],[1208,0.775],[1210,0.775],[1213,0.765],[1215,0.76],[1218,0.77],[1221,0.78],[1224,0.775],[1226,0.76],[1229,0.775],[1232,0.79],[1235,0.775],[1237,0.76],[1240,0.745],[1242,0.73],[1245,0.76],[1248,0.785],[1250,0.775],[1253,0.76],[1256,0.775],[1258,0.79],[1261,0.785],[1264,0.775],[1266,0.77],[1269,0.76],[1272,0.78],[1275,0.795],[1277,0.80],[1280,0.80],[1283,0.78],[1285,0.76],[1288,0.765],[1291,0.76],[1293,0.745],[1296,0.73],[1299,0.78],[1302,0.824],[1304,0.815],[1307,0.80],[1310,0.78],[1312,0.76],[1315,0.775],[1318,0.79],[1320,0.77],[1323,0.75],[1326,0.74],[1329,0.73],[1331,0.715],[1334,0.70],[1337,0.695],[1339,0.69],[1342,0.685],[1345,0.683],[1347,0.695],[1350,0.71],[1353,0.725],[1356,0.74],[1358,0.75],[1361,0.76],[1364,0.755],[1366,0.75],[1369,0.765],[1372,0.78],[1374,0.82],[1377,0.857],[1380,0.83],[1382,0.80],[1385,0.78],[1388,0.76],[1390,0.79],[1393,0.82],[1396,0.80],[1399,0.78],[1401,0.80],[1404,0.83],[1407,0.815],[1410,0.80],[1412,0.77],[1415,0.733],[1418,0.76],[1420,0.79],[1423,0.81],[1426,0.834],[1428,0.82],[1431,0.80],[1434,0.78],[1436,0.76],[1439,0.74],[1442,0.725],[1445,0.712],[1447,0.71]];
const mix4Sidewall = [[-148,0.025],[-140,0.022],[-132,0.027],[-124,0.023],[-116,0.026],[-108,0.022],[-100,0.027],[-92,0.024],[-84,0.026],[-76,0.022],[-68,0.027],[-60,0.023],[-52,0.026],[-44,0.024],[-36,0.027],[-28,0.023],[-20,0.026],[-14,0.025],[-12,0.05],[-10,0.11],[-8,0.09],[-6,0.07],[-3,0.06],[-1,0.08],[1,0.09],[3,0.05],[5,0.0],[8,-0.004],[15,-0.004],[22,-0.004],[30,-0.004],[32,0.0],[34,0.05],[37,0.10],[40,0.13],[43,0.16],[45,0.185],[48,0.22],[51,0.26],[54,0.22],[57,0.177],[61,0.25],[65,0.30],[68,0.32],[72,0.35],[75,0.31],[78,0.276],[80,0.33],[82,0.39],[85,0.46],[88,0.517],[90,0.55],[92,0.575],[95,0.59],[97,0.596],[100,0.56],[103,0.525],[105,0.55],[107,0.575],[110,0.52],[112,0.459],[115,0.46],[118,0.475],[122,0.43],[126,0.392],[129,0.46],[132,0.517],[135,0.53],[138,0.542],[142,0.56],[146,0.575],[149,0.55],[152,0.525],[155,0.59],[158,0.654],[161,0.62],[163,0.542],[166,0.48],[169,0.442],[172,0.50],[175,0.558],[180,0.565],[184,0.575],[188,0.585],[192,0.596],[195,0.57],[198,0.542],[203,0.53],[207,0.525],[210,0.50],[213,0.484],[216,0.51],[219,0.525],[224,0.54],[228,0.558],[232,0.54],[236,0.517],[239,0.54],[242,0.558],[246,0.57],[251,0.579],[256,0.58],[260,0.583],[263,0.61],[265,0.625],[268,0.615],[271,0.608],[275,0.64],[279,0.675],[282,0.665],[285,0.658],[288,0.70],[291,0.745],[294,0.72],[297,0.69],[300,0.695],[302,0.70],[306,0.665],[309,0.633],[313,0.635],[317,0.642],[320,0.635],[323,0.625],[326,0.64],[329,0.65],[333,0.645],[337,0.642],[340,0.655],[344,0.666],[348,0.675],[352,0.683],[356,0.705],[360,0.729],[364,0.715],[367,0.708],[370,0.70],[373,0.691],[377,0.71],[381,0.724],[385,0.72],[389,0.724],[392,0.705],[395,0.691],[398,0.695],[402,0.70],[406,0.69],[410,0.683],[414,0.69],[418,0.691],[423,0.675],[428,0.666],[431,0.655],[433,0.65],[436,0.66],[439,0.666],[443,0.66],[447,0.658],[450,0.65],[453,0.642],[457,0.63],[460,0.625],[464,0.65],[468,0.675],[471,0.67],[475,0.666],[478,0.645],[482,0.625],[486,0.645],[489,0.658],[493,0.665],[497,0.675],[500,0.66],[503,0.642],[506,0.625],[509,0.608],[513,0.59],[516,0.583],[519,0.578],[522,0.575],[526,0.585],[529,0.592],[533,0.62],[538,0.642],[542,0.645],[546,0.642],[549,0.61],[551,0.575],[555,0.57],[558,0.567],[562,0.575],[567,0.592],[570,0.61],[574,0.625],[577,0.64],[580,0.65],[583,0.62],[586,0.592],[589,0.575],[593,0.567],[597,0.55],[601,0.534],[604,0.56],[607,0.583],[611,0.58],[615,0.579],[618,0.61],[622,0.633],[625,0.605],[628,0.575],[632,0.57],[636,0.567],[640,0.575],[643,0.579],[647,0.585],[650,0.592],[654,0.60],[657,0.608],[661,0.61],[665,0.604],[668,0.61],[671,0.617],[675,0.625],[679,0.633],[682,0.645],[685,0.658],[689,0.68],[692,0.708],[696,0.73],[700,0.754],[703,0.73],[706,0.708],[709,0.67],[711,0.642],[714,0.70],[717,0.749],[720,0.755],[723,0.758],[726,0.74],[729,0.708],[732,0.68],[735,0.658],[738,0.69],[740,0.724],[745,0.745],[750,0.762],[754,0.764],[758,0.766],[762,0.768],[766,0.77],[769,0.73],[773,0.691],[777,0.66],[781,0.642],[784,0.65],[787,0.658],[790,0.655],[793,0.65],[797,0.67],[801,0.691],[805,0.71],[808,0.725],[810,0.70],[812,0.658],[815,0.63],[819,0.60],[822,0.63],[825,0.642],[829,0.63],[833,0.617],[836,0.59],[839,0.558],[842,0.575],[845,0.60],[849,0.607],[853,0.608],[856,0.60],[858,0.592],[861,0.60],[865,0.608],[868,0.60],[871,0.592],[875,0.58],[879,0.567],[883,0.58],[888,0.592],[891,0.62],[894,0.642],[898,0.67],[903,0.70],[905,0.69],[908,0.658],[911,0.62],[914,0.567],[917,0.58],[920,0.60],[923,0.58],[926,0.558],[929,0.59],[932,0.625],[935,0.65],[937,0.666],[940,0.66],[944,0.65],[947,0.70],[951,0.758],[954,0.70],[957,0.683],[960,0.62],[964,0.558],[968,0.59],[972,0.625],[975,0.65],[978,0.675],[981,0.69],[984,0.691],[988,0.68],[992,0.666],[996,0.64],[999,0.617],[1002,0.60],[1004,0.592],[1007,0.61],[1010,0.617],[1013,0.60],[1018,0.642],[1021,0.63],[1024,0.625],[1027,0.63],[1030,0.642],[1033,0.61],[1036,0.592],[1039,0.56],[1042,0.517],[1045,0.47],[1047,0.475],[1050,0.50],[1053,0.517],[1056,0.46],[1059,0.413],[1062,0.44],[1065,0.492],[1068,0.50],[1070,0.509],[1073,0.51],[1076,0.509],[1079,0.48],[1082,0.475],[1085,0.52],[1088,0.542],[1091,0.525],[1094,0.575],[1096,0.54],[1099,0.509],[1102,0.48],[1105,0.492],[1108,0.51],[1111,0.559],[1114,0.58],[1117,0.625],[1120,0.59],[1123,0.567],[1126,0.51],[1128,0.492],[1131,0.50],[1134,0.509],[1137,0.56],[1140,0.592],[1143,0.56],[1146,0.575],[1149,0.54],[1152,0.534],[1155,0.51],[1157,0.492],[1160,0.50],[1163,0.525],[1166,0.56],[1169,0.575],[1172,0.535],[1175,0.509],[1178,0.48],[1181,0.534],[1184,0.49],[1186,0.475],[1189,0.40],[1192,0.351],[1195,0.40],[1198,0.426],[1201,0.45],[1204,0.492],[1207,0.47],[1210,0.484],[1213,0.50],[1215,0.509],[1218,0.49],[1221,0.50],[1224,0.517],[1227,0.534],[1230,0.55],[1233,0.567],[1236,0.51],[1238,0.55],[1241,0.625],[1244,0.509],[1247,0.55],[1250,0.60],[1253,0.716],[1256,0.642],[1259,0.55],[1262,0.525],[1265,0.55],[1268,0.625],[1270,0.60],[1273,0.525],[1276,0.55],[1279,0.509],[1282,0.50],[1285,0.55],[1288,0.525],[1291,0.55],[1294,0.509],[1296,0.517],[1299,0.48],[1302,0.423],[1305,0.46],[1308,0.475],[1311,0.44],[1314,0.426],[1317,0.45],[1320,0.49],[1323,0.46],[1325,0.426],[1328,0.45],[1331,0.475],[1334,0.49],[1337,0.509],[1340,0.51],[1343,0.542],[1346,0.49],[1349,0.475],[1352,0.50],[1354,0.567],[1357,0.55],[1360,0.542],[1363,0.509],[1366,0.492],[1369,0.517],[1372,0.542],[1375,0.525],[1378,0.50],[1381,0.48],[1383,0.525],[1386,0.509],[1389,0.45],[1392,0.484],[1395,0.542],[1398,0.55],[1401,0.558],[1404,0.534],[1407,0.51],[1410,0.542],[1412,0.525],[1415,0.50],[1418,0.475],[1421,0.509],[1424,0.484],[1427,0.517],[1430,0.534],[1433,0.51],[1436,0.50],[1439,0.492],[1442,0.475],[1445,0.484],[1447,0.49]];
const mix4Emission = [[-148,0.006],[-130,0.007],[-110,0.005],[-90,0.007],[-70,0.006],[-50,0.007],[-30,0.005],[-10,0.006],[10,0.003],[30,0.004],[50,0.006],[70,0.005],[90,0.006],[110,0.005],[130,0.006],[150,0.005],[170,0.006],[190,0.005],[210,0.006],[230,0.005],[250,0.006],[270,0.005],[290,0.006],[310,0.006],[330,0.005],[350,0.006],[370,0.006],[390,0.005],[410,0.006],[430,0.006],[450,0.005],[470,0.006],[490,0.006],[510,0.007],[525,0.008],[543,0.01],[555,0.015],[562,0.02],[567,0.025],[572,0.035],[576,0.05],[580,0.08],[584,0.12],[588,0.18],[592,0.25],[596,0.32],[601,0.40],[605,0.48],[610,0.57],[615,0.62],[619,0.67],[623,0.72],[627,0.78],[631,0.83],[634,0.88],[637,0.92],[640,0.96],[642,0.985],[644,1.0],[647,0.97],[650,0.92],[653,0.86],[657,0.80],[661,0.74],[665,0.68],[669,0.63],[674,0.58],[678,0.55],[682,0.52],[688,0.49],[694,0.46],[700,0.43],[706,0.40],[712,0.375],[717,0.35],[723,0.33],[729,0.31],[734,0.285],[740,0.26],[745,0.25],[750,0.248],[755,0.245],[758,0.243],[763,0.25],[769,0.255],[775,0.265],[781,0.27],[787,0.268],[793,0.27],[799,0.272],[804,0.275],[808,0.28],[812,0.285],[817,0.295],[821,0.31],[827,0.32],[833,0.335],[838,0.355],[842,0.38],[846,0.40],[850,0.42],[854,0.44],[858,0.46],[863,0.475],[868,0.49],[872,0.505],[877,0.52],[881,0.535],[885,0.55],[889,0.553],[893,0.555],[898,0.558],[903,0.56],[907,0.565],[912,0.57],[916,0.572],[920,0.575],[924,0.565],[928,0.56],[932,0.558],[937,0.555],[943,0.54],[949,0.53],[955,0.525],[960,0.52],[966,0.515],[972,0.51],[978,0.505],[984,0.50],[990,0.495],[995,0.49],[1001,0.475],[1007,0.46],[1012,0.445],[1018,0.43],[1024,0.415],[1030,0.40],[1036,0.385],[1042,0.37],[1047,0.35],[1053,0.33],[1059,0.31],[1065,0.29],[1070,0.275],[1076,0.265],[1082,0.255],[1088,0.245],[1094,0.24],[1099,0.235],[1105,0.23],[1111,0.225],[1117,0.22],[1123,0.215],[1128,0.21],[1134,0.205],[1150,0.19],[1200,0.16],[1250,0.14],[1300,0.12],[1350,0.105],[1400,0.095],[1420,0.09],[1430,0.088],[1440,0.092],[1447,0.095]];

// ---------------------------------------------------------------
// Layout (pixels) and drawing
// ---------------------------------------------------------------
const TEXT_SX = 1.08;   // figure text is slightly wide
const fmtY = d3.format(".1f");

const panels = [
  { frame: [84, 9, 560.5, 408.3], xDomain: [-37, 1296], yDomain: [-0.0105, 1.036],
    xMajor: xTicks1, xMinor: xMinor1, series: [mix1Endwall, mix1Sidewall, mix1Emission], ring: mix1Ring,
    label: { lines: mixLabels[0], x: 95.3, y: [45], anchor: "start", size: 24 },
    legend: { box: [92.7, 49, 342.5, 128.3], rows: [63.3, 90, 116.7], line: [106, 152.7], textX: 160.7, size: 20 },
    yTitle: [23, 201.7], xTitle: [338.7, 465] },
  { frame: [643.5, 17.3, 1115.3, 412.7], xDomain: [-35, 1239], yDomain: [-0.038, 1.019],
    xMajor: xTicks1, xMinor: xMinor1, series: [mix2Endwall, mix2Sidewall, mix2Emission], ring: mix2Ring,
    label: { lines: mixLabels[1], x: 725, y: [48.3, 80.7, 111.7], anchor: "middle", size: 24 },
    legend: { box: [874, 320.7, 1104, 397.3], rows: [332.7, 359.3, 386], line: [875, 921.7], textX: 929.3, size: 20 },
    yTitle: [585.4, 215], xTitle: [874.3, 466] },
  { frame: [77, 482, 549.2, 883.3], xDomain: [-30, 881], yDomain: [-0.009, 1.100],
    xMajor: xTicks3, xMinor: xMinor3, series: [mix3Endwall, mix3Sidewall, mix3Emission], ring: mix3Ring,
    label: { lines: mixLabels[2], x: 106.2, y: [510], anchor: "start", size: 24 },
    legend: { box: [100.7, 522.3, 326.2, 597.3], rows: [534, 559.7, 585.7], line: [100.7, 148], textX: 154.5, size: 20 },
    yTitle: [24, 682.5], xTitle: [318.7, 937.5] },
  { frame: [631.2, 476, 1139, 886.7], xDomain: [-148.3, 1447], yDomain: [-0.0067, 1.0167],
    xMajor: xTicks4, xMinor: xMinor4, series: [mix4Endwall, mix4Sidewall, mix4Emission], ring: mix4Ring,
    label: { lines: mixLabels[3], x: 776, y: [788.3, 821.7, 855], anchor: "middle", size: 24 },
    legend: { box: [891, 801.7, 1127.6, 882.7], rows: [814, 842, 869.3], line: [891.7, 940.8], textX: 947.8, size: 20.5 },
    yTitle: [570, 699], xTitle: [879.8, 941] }
];

const svg = d3.select("#chart");

function addText(parent, x, y, str, size, anchor, rotate) {
  let tf = `translate(${x},${y}) scale(${TEXT_SX},1)`;
  if (rotate) tf += ` rotate(${rotate})`;
  return parent.append("text")
    .attr("transform", tf)
    .attr("text-anchor", anchor)
    .attr("fill", "#000")
    .style("font-size", size + "px")
    .text(str);
}

panels.forEach((p, i) => {
  const [x0, y0, x1, y1] = p.frame;
  const x = d3.scaleLinear().domain(p.xDomain).range([x0, x1]);
  const y = d3.scaleLinear().domain(p.yDomain).range([y1, y0]);
  const g = svg.append("g");

  const clipId = "clip" + i;
  svg.append("clipPath").attr("id", clipId)
    .append("rect").attr("x", x0).attr("y", y0).attr("width", x1 - x0).attr("height", y1 - y0);

  // traces
  const line = d3.line().x(d => x(d[0])).y(d => y(d[1]));
  const traces = g.append("g").attr("clip-path", `url(#${clipId})`);
  p.series.forEach((s, k) => {
    traces.append("path").datum(s)
      .attr("d", line)
      .attr("fill", "none")
      .attr("stroke", seriesColors[k])
      .attr("stroke-width", 1.3)
      .attr("stroke-linejoin", "round");
  });

  // highlight ellipse
  const [cx, cy, rx, ry] = p.ring;
  traces.append("ellipse")
    .attr("cx", x(cx)).attr("cy", y(cy))
    .attr("rx", x(cx + rx) - x(cx)).attr("ry", y(cy - ry) - y(cy))
    .attr("fill", "none").attr("stroke", "#000").attr("stroke-width", 1.3);

  // frame
  g.append("rect")
    .attr("x", x0).attr("y", y0).attr("width", x1 - x0).attr("height", y1 - y0)
    .attr("fill", "none").attr("stroke", "#000").attr("stroke-width", 1.4);

  // axes
  const styleAxis = (ga) => {
    ga.attr("font-family", null).attr("font-size", null);
    ga.select(".domain").remove();
    ga.selectAll("line").attr("stroke", "#000").attr("stroke-width", 1.3);
  };
  const gx = g.append("g").attr("transform", `translate(0,${y1})`)
    .call(d3.axisBottom(x).tickValues(p.xMajor).tickSize(7).tickPadding(9).tickFormat(d3.format("d")));
  styleAxis(gx);
  gx.selectAll("text").attr("transform", `scale(${TEXT_SX},1)`).attr("fill", "#000").style("font-size", "18.5px");
  const gxm = g.append("g").attr("transform", `translate(0,${y1})`)
    .call(d3.axisBottom(x).tickValues(p.xMinor).tickSize(4).tickFormat(""));
  styleAxis(gxm);

  const gy = g.append("g").attr("transform", `translate(${x0},0)`)
    .call(d3.axisLeft(y).tickValues(yTicks).tickSize(7).tickPadding(6).tickFormat(fmtY));
  styleAxis(gy);
  gy.selectAll("text").attr("x", -13 / TEXT_SX).attr("transform", `scale(${TEXT_SX},1)`).attr("fill", "#000").style("font-size", "18.5px");
  const gym = g.append("g").attr("transform", `translate(${x0},0)`)
    .call(d3.axisLeft(y).tickValues(yMinorTicks).tickSize(4).tickFormat(""));
  styleAxis(gym);

  // axis titles
  addText(g, p.yTitle[0], p.yTitle[1], "Normalized", 25, "middle", -90).attr("dy", "0.35em");
  addText(g, p.xTitle[0], p.xTitle[1], "Time (\u03bcs)", 24, "middle");

  // mixture label
  p.label.lines.forEach((ln, j) => addText(g, p.label.x, p.label.y[j], ln, p.label.size, p.label.anchor));

  // legend
  const L = p.legend;
  const lg = g.append("g");
  lg.append("rect")
    .attr("x", L.box[0]).attr("y", L.box[1])
    .attr("width", L.box[2] - L.box[0]).attr("height", L.box[3] - L.box[1])
    .attr("fill", "#fff").attr("stroke", "#000").attr("stroke-width", 1.2);
  seriesNames.forEach((name, k) => {
    lg.append("line")
      .attr("x1", L.line[0]).attr("x2", L.line[1])
      .attr("y1", L.rows[k]).attr("y2", L.rows[k])
      .attr("stroke", seriesColors[k]).attr("stroke-width", 1.4);
    addText(lg, L.textX, L.rows[k], name, L.size, "start").attr("dy", "0.35em");
  });
});
</script>
</body>
</html>
